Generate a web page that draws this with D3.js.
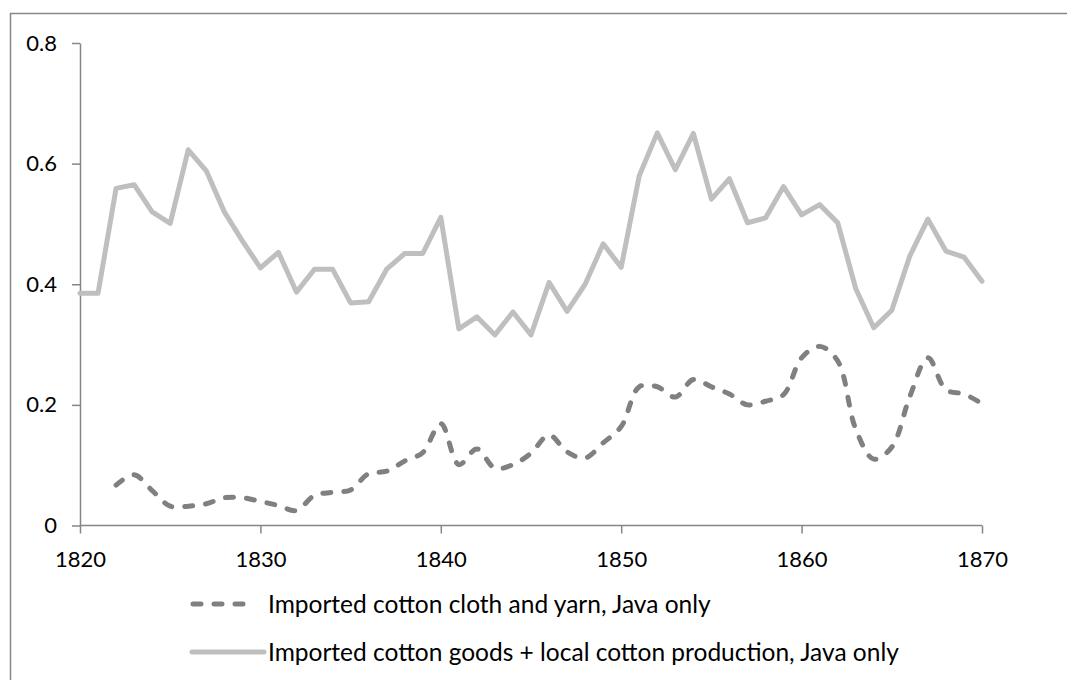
<!DOCTYPE html>
<html>
<head>
<meta charset="utf-8">
<script src="https://cdn.jsdelivr.net/npm/d3@7"></script>
<style>
  html, body { margin: 0; padding: 0; background: #fff; }
  svg { display: block; }
  text { font-family: Lato, "Open Sans", sans-serif; fill: #000; }
</style>
</head>
<body>
<svg id="chart" width="1067" height="680"></svg>
<script>
const years = d3.range(1820, 1871);
const xTicks = [1820, 1830, 1840, 1850, 1860, 1870];
const yTicks = [0, 0.2, 0.4, 0.6, 0.8];
const yTickLabels = ["0", "0.2", "0.4", "0.6", "0.8"];
const seriesNames = [
  "Imported cotton cloth and yarn, Java only",
  "Imported cotton goods + local cotton production, Java only"
];
const importedCloth = [
  null, null, 0.067, 0.084, 0.058, 0.032, 0.032, 0.036, 0.046, 0.046,
  0.040, 0.033, 0.025, 0.050, 0.055, 0.059, 0.086, 0.090, 0.107, 0.121,
  0.169, 0.101, 0.127, 0.095, 0.101, 0.120, 0.150, 0.122, 0.112, 0.137,
  0.164, 0.230, 0.230, 0.213, 0.242, 0.230, 0.218, 0.200, 0.206, 0.217,
  0.278, 0.297, 0.273, 0.160, 0.110, 0.130, 0.214, 0.278, 0.225, 0.218,
  0.202
];
const goodsPlusLocal = [
  0.385, 0.385, 0.559, 0.565, 0.520, 0.501, 0.623, 0.588, 0.520, 0.472,
  0.427, 0.453, 0.387, 0.425, 0.425, 0.369, 0.371, 0.425, 0.451, 0.451,
  0.511, 0.326, 0.346, 0.316, 0.354, 0.316, 0.403, 0.355, 0.400, 0.467,
  0.428, 0.580, 0.651, 0.590, 0.650, 0.541, 0.575, 0.502, 0.510, 0.562,
  0.515, 0.532, 0.502, 0.393, 0.328, 0.357, 0.447, 0.508, 0.455, 0.445,
  0.405
];

const svg = d3.select("#chart");
const axisColor = "#868686";

// outer chart border
svg.append("rect")
  .attr("x", 10.5).attr("y", 13.5)
  .attr("width", 1070).attr("height", 690)
  .attr("fill", "none").attr("stroke", "#878787").attr("stroke-width", 1.5);

const x = d3.scaleLinear().domain([1820, 1870]).range([80, 982]);
const y = d3.scaleLinear().domain([0, 0.8]).range([525.5, 43]);

// y axis
const yAxis = d3.axisLeft(y).tickValues(yTicks)
  .tickFormat((d, i) => yTickLabels[i]).tickSize(8).tickSizeOuter(0).tickPadding(15);
const gy = svg.append("g").attr("transform", `translate(${x(1820)},0)`).call(yAxis);
gy.select(".domain").attr("stroke", axisColor).attr("stroke-width", 1.5);
gy.selectAll(".tick line").attr("stroke", axisColor).attr("stroke-width", 1.5);
gy.selectAll(".tick text").style("font-size", "22px").style("font-family", "Lato, sans-serif").attr("fill", "#000");

// x axis
const xAxis = d3.axisBottom(x).tickValues(xTicks).tickFormat(d3.format("d"))
  .tickSize(8).tickSizeOuter(8).tickPadding(18);
const gx = svg.append("g").attr("transform", `translate(0,${y(0)})`).call(xAxis);
gx.select(".domain").attr("stroke", axisColor).attr("stroke-width", 1.5)
  .attr("d", `M${x(1820)},0H${x(1870)}`);
gx.selectAll(".tick line").attr("stroke", axisColor).attr("stroke-width", 1.5);
gx.selectAll(".tick text").style("font-size", "22px").style("font-family", "Lato, sans-serif").attr("fill", "#000");

// solid line
const solidLine = d3.line()
  .x((d, i) => x(years[i])).y(d => y(d));
svg.append("path").datum(goodsPlusLocal)
  .attr("d", solidLine)
  .attr("fill", "none").attr("stroke", "#bfbfbf").attr("stroke-width", 5)
  .attr("stroke-linejoin", "round").attr("stroke-linecap", "round");

// dashed smoothed line
const dashData = years.map((yr, i) => [yr, importedCloth[i]]).filter(d => d[1] !== null);
const dashLine = d3.line().curve(d3.curveCatmullRom.alpha(0.5))
  .x(d => x(d[0])).y(d => y(d[1]));
svg.append("path").datum(dashData)
  .attr("d", dashLine)
  .attr("fill", "none").attr("stroke", "#808080").attr("stroke-width", 5)
  .attr("stroke-dasharray", "8,13").attr("stroke-linecap", "round");

// legend
const leg = svg.append("g");
leg.append("line").attr("x1", 193).attr("x2", 250).attr("y1", 604).attr("y2", 604)
  .attr("stroke", "#808080").attr("stroke-width", 5)
  .attr("stroke-dasharray", "8,13").attr("stroke-linecap", "round");
leg.append("line").attr("x1", 192).attr("x2", 264).attr("y1", 652).attr("y2", 652)
  .attr("stroke", "#bfbfbf").attr("stroke-width", 5).attr("stroke-linecap", "round");
const legTexts = [[seriesNames[0], 604], [seriesNames[1], 652]];
leg.selectAll("text.lg").data(legTexts).join("text")
  .attr("class", "lg")
  .attr("x", 268).attr("y", d => d[1])
  .attr("dy", "0.35em")
  .style("font-size", "24.5px")
  .text(d => d[0]);
</script>
</body>
</html>
